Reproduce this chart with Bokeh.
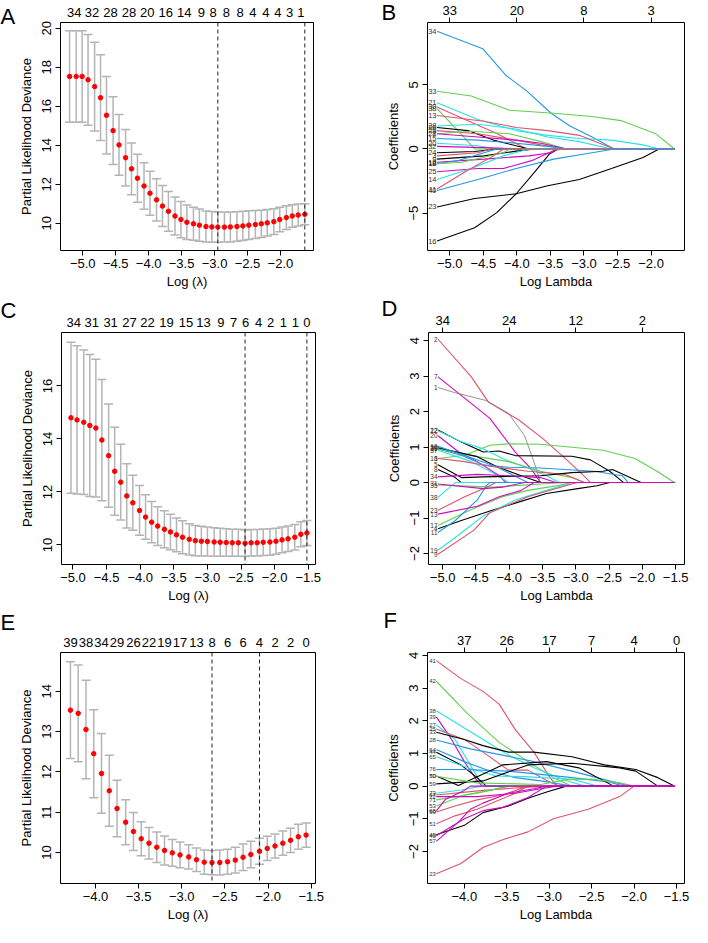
from bokeh.plotting import figure
from bokeh.layouts import column, row
from bokeh.models import (ColumnDataSource, Whisker, TeeHead, Span, Label, LinearAxis,
                          FixedTicker, CustomJSTickFormatter, Range1d)
from bokeh.embed import file_html
from bokeh.resources import INLINE
from bokeh.core.properties import value

FONT = "Liberation Sans"
COLORS = {"k": "black", "r": "#DF536B", "g": "#61D04F", "b": "#2297E6",
          "c": "#28E2E5", "m": "#CD0BBC", "y": "#777777"}
GREY = "#B4B4B4"

# ---------------- Panel A (CV curve) ----------------
A_lam = [-5.20, -5.10, -5.01, -4.92, -4.82, -4.73, -4.64, -4.54, -4.45, -4.35, -4.26, -4.17, -4.07,
         -3.98, -3.88, -3.79, -3.70, -3.60, -3.51, -3.42, -3.32, -3.23, -3.13, -3.04, -2.95, -2.85,
         -2.76, -2.66, -2.57, -2.48, -2.38, -2.29, -2.20, -2.10, -2.01, -1.91, -1.82, -1.73, -1.63]
A_mean = [17.53, 17.53, 17.53, 17.36, 17.01, 16.44, 15.54, 14.75, 14.02, 13.36, 12.79, 12.31, 11.91,
          11.54, 11.20, 10.88, 10.61, 10.37, 10.19, 10.05, 9.97, 9.90, 9.83, 9.81, 9.80, 9.80,
          9.81, 9.83, 9.86, 9.90, 9.93, 9.97, 10.02, 10.08, 10.19, 10.29, 10.37, 10.42, 10.46]
A_se = [2.35, 2.35, 2.35, 2.33, 2.28, 2.20, 1.99, 1.74, 1.56, 1.45, 1.33, 1.23, 1.19,
        1.13, 1.08, 1.05, 1.02, 0.98, 0.93, 0.88, 0.85, 0.83, 0.80, 0.79, 0.78, 0.77,
        0.77, 0.76, 0.75, 0.74, 0.72, 0.70, 0.68, 0.66, 0.63, 0.61, 0.58, 0.56, 0.54]
A_vlines = [-2.95, -1.63]
A_top_pos = [-5.13, -4.86, -4.58, -4.30, -4.02, -3.74, -3.46, -3.20, -3.02, -2.82, -2.61, -2.42,
             -2.22, -2.04, -1.86, -1.69]
A_top_lab = ["34", "32", "28", "28", "20", "16", "14", "9", "8", "8", "8", "4", "4", "4", "3", "1"]

# ---------------- Panel C (CV curve) ----------------
C_lam = [-5.03, -4.94, -4.84, -4.75, -4.66, -4.57, -4.47, -4.38, -4.29, -4.20, -4.11, -4.01, -3.92,
         -3.83, -3.74, -3.64, -3.55, -3.46, -3.37, -3.27, -3.18, -3.09, -3.00, -2.90, -2.81, -2.72,
         -2.63, -2.54, -2.44, -2.35, -2.26, -2.17, -2.07, -1.98, -1.89, -1.80, -1.70, -1.61, -1.52]
C_mean = [14.80, 14.72, 14.63, 14.51, 14.41, 13.96, 13.37, 12.78, 12.37, 11.85, 11.59, 11.30, 11.05,
          10.86, 10.71, 10.59, 10.49, 10.38, 10.29, 10.21, 10.16, 10.14, 10.13, 10.11, 10.10, 10.09,
          10.08, 10.08, 10.06, 10.08, 10.08, 10.10, 10.11, 10.14, 10.19, 10.23, 10.29, 10.40, 10.45]
C_se = [2.85, 2.80, 2.73, 2.68, 2.60, 2.29, 1.95, 1.66, 1.43, 1.21, 1.04, 0.94, 0.84,
        0.78, 0.73, 0.70, 0.67, 0.64, 0.62, 0.59, 0.57, 0.56, 0.55, 0.54, 0.53, 0.52,
        0.51, 0.51, 0.50, 0.50, 0.50, 0.50, 0.50, 0.49, 0.49, 0.48, 0.48, 0.47, 0.47]
C_vlines = [-2.44, -1.52]
C_top_pos = [-4.99, -4.72, -4.44, -4.16, -3.89, -3.61, -3.32, -3.06, -2.80, -2.61, -2.43, -2.24,
             -2.06, -1.87, -1.69, -1.52]
C_top_lab = ["34", "31", "31", "27", "22", "19", "15", "13", "9", "7", "6", "4", "2", "1", "1", "0"]

# ---------------- Panel E (CV curve) ----------------
E_lam = [-4.29, -4.20, -4.11, -4.02, -3.93, -3.84, -3.75, -3.65, -3.56, -3.47, -3.38, -3.29, -3.20,
         -3.11, -3.02, -2.92, -2.83, -2.74, -2.65, -2.56, -2.47, -2.38, -2.29, -2.20, -2.10, -2.01,
         -1.92, -1.83, -1.74, -1.65, -1.56]
E_mean = [13.53, 13.45, 13.05, 12.45, 11.96, 11.53, 11.09, 10.75, 10.52, 10.34, 10.23, 10.13, 10.05,
          9.99, 9.94, 9.89, 9.82, 9.76, 9.75, 9.75, 9.77, 9.81, 9.88, 9.95, 10.03, 10.10,
          10.16, 10.23, 10.30, 10.39, 10.43]
E_se = [1.20, 1.20, 1.22, 1.09, 0.99, 0.88, 0.70, 0.56, 0.47, 0.42, 0.39, 0.38, 0.36,
        0.33, 0.32, 0.30, 0.29, 0.30, 0.30, 0.31, 0.31, 0.32, 0.33, 0.33, 0.32, 0.30,
        0.30, 0.30, 0.30, 0.31, 0.30]
E_vlines = [-2.65, -2.10]
E_top_pos = [-4.29, -4.11, -3.93, -3.75, -3.56, -3.38, -3.20, -3.02, -2.83, -2.65, -2.47, -2.29,
             -2.10, -1.92, -1.74, -1.56]
E_top_lab = ["39", "38", "34", "29", "26", "22", "19", "17", "13", "8", "6", "6", "4", "2", "2", "0"]

# ---------------- Panel B (coefficient paths) ----------------
B_xmax = -1.65
B_top_pos = [-5.0, -4.0, -3.0, -2.0]
B_top_lab = ["33", "20", "8", "3"]
B_lines = [
    ("34", "b", [-5.19, -4.51, -4.16, -3.85, -3.49, -3.21, -2.88, -2.55], [9.16, 7.81, 5.72, 4.50, 2.78, 1.79, 0.93, 0]),
    ("33", "g", [-5.19, -4.68, -4.11, -3.45, -2.88, -2.45, -1.93, -1.65], [4.50, 4.13, 3.02, 2.78, 2.53, 2.21, 1.18, 0]),
    ("23", "k", [-5.19, -4.63, -4.01, -3.54, -3.07, -2.59, -2.12, -1.88], [-4.52, -3.86, -3.49, -2.87, -2.38, -1.52, -0.66, 0]),
    ("16", "k", [-5.19, -4.63, -4.30, -4.01, -3.73, -3.52, -3.40, -3.26], [-7.17, -6.14, -4.96, -3.49, -1.77, -0.42, -0.05, 0]),
    ("21", "c", [-5.19, -4.58, -4.01, -3.54, -3.07, -2.59, -2.12, -1.88], [3.59, 2.29, 1.43, 1.06, 0.81, 0.69, 0.32, 0]),
    ("30", "r", [-5.19, -4.73, -4.30, -3.85], [3.27, 2.20, 1.20, 0]),
    ("38", "g", [-5.19, -4.91, -4.63], [3.14, 1.60, 0]),
    ("13", "r", [-5.19, -4.49, -4.01, -3.54, -3.07, -2.55], [2.60, 2.16, 1.67, 1.43, 1.06, 0]),
    ("26", "k", [-5.19, -4.73, -4.35, -3.82], [1.67, 1.43, 0.69, 0]),
    ("28", "c", [-5.19, -4.58, -4.01, -3.54, -3.07, -2.59], [1.79, 1.92, 1.55, 0.93, 0.57, 0]),
    ("29", "r", [-5.19, -4.58, -4.01, -3.64, -3.26], [1.43, 1.18, 0.69, 0.32, 0]),
    ("8", "g", [-5.19, -4.68, -4.11, -3.64, -3.26], [1.18, 1.38, 1.18, 0.57, 0]),
    ("27", "m", [-5.19, -4.58, -4.01, -3.64, -3.26], [1.18, 0.93, 0.69, 0.44, 0]),
    ("15", "b", [-5.19, -4.58, -4.01, -3.54, -3.26], [0.81, 0.69, 0.44, 0.20, 0]),
    ("20", "c", [-5.19, -4.58, -4.30], [0.44, 0.25, 0]),
    ("32", "m", [-5.19, -4.49, -3.85], [0.20, 0.10, 0]),
    ("24", "k", [-5.19, -4.63, -4.30], [-0.30, -0.20, 0]),
    ("3", "r", [-5.19, -4.58, -4.39], [-0.54, -0.29, 0]),
    ("9", "k", [-5.19, -4.49, -4.01, -3.73], [-0.79, -0.54, -0.17, 0]),
    ("12", "m", [-5.19, -4.49, -3.82, -3.49, -3.40], [-1.03, -0.79, -0.54, -0.29, 0]),
    ("19", "b", [-5.19, -4.87, -4.49, -4.30], [-1.15, -0.90, -0.29, 0]),
    ("18", "g", [-5.19, -4.82, -4.20, -4.11], [-1.15, -1.03, -0.29, 0]),
    ("25", "m", [-5.19, -4.58, -4.20, -3.78, -3.40], [-1.77, -1.52, -1.52, -0.91, 0]),
    ("14", "c", [-5.19, -4.68, -4.20, -3.82], [-2.38, -1.52, -0.54, 0]),
    ("11", "r", [-5.19, -4.77, -4.35, -4.20], [-3.12, -1.77, -0.54, 0]),
    ("40", "b", [-5.19, -4.58, -4.01, -3.45, -2.88, -2.55], [-3.24, -2.38, -1.52, -0.79, -0.29, 0]),
]

# ---------------- Panel D (coefficient paths) ----------------
D_xmax = -1.52
D_top_pos = [-5.0, -4.0, -3.0, -2.0]
D_top_lab = ["34", "24", "12", "2"]
D_lines = [
    ("2", "r", [-5.07, -4.57, -4.31, -3.86, -3.49, -3.16, -2.85, -2.78], [4.04, 2.98, 2.26, 1.77, 1.23, 0.68, 0.14, 0]),
    ("7", "m", [-5.07, -4.29, -3.91, -3.68, -3.53], [2.98, 1.81, 0.86, 0.41, 0]),
    ("1", "y", [-5.07, -4.81, -4.34, -4.01, -3.77, -3.63, -3.53], [2.68, 2.53, 2.31, 1.95, 1.32, 0.59, 0]),
    ("3", "g", [-5.07, -4.67, -4.29, -4.01, -3.53, -2.59, -2.11, -1.78, -1.52], [0.68, 0.77, 1.05, 1.09, 1.08, 0.91, 0.68, 0.32, 0]),
    ("22", "k", [-5.07, -4.72, -4.39, -4.15, -3.91, -3.06, -2.78, -2.49, -2.28], [1.48, 1.14, 0.86, 0.89, 0.76, 0.74, 0.64, 0.32, 0]),
    ("12", "c", [-5.07, -4.72, -4.39, -4.10, -3.72, -3.44, -3.25], [1.46, 1.15, 0.95, 0.68, 0.41, 0.19, 0]),
    ("20", "m", [-5.07, -4.76, -4.48, -4.15, -4.05], [1.32, 0.86, 0.59, 0.19, 0]),
    ("29", "b", [-5.07, -4.72, -4.39, -4.01, -3.53, -3.16, -2.73, -2.30, -2.21], [0.95, 0.77, 0.50, 0.43, 0.41, 0.37, 0.32, 0.19, 0]),
    ("36", "g", [-5.07, -4.48, -4.01, -3.53, -3.06, -2.87], [0.95, 0.73, 0.59, 0.32, 0.14, 0]),
    ("30", "k", [-5.07, -4.48, -4.20, -3.82, -3.53], [0.98, 0.73, 0.46, 0.19, 0]),
    ("37", "c", [-5.07, -4.57, -4.20, -4.01], [0.91, 0.59, 0.23, 0]),
    ("10", "b", [-5.07, -4.57, -4.20, -3.72], [1.02, 0.70, 0.45, 0]),
    ("16", "r", [-5.07, -4.67, -4.29, -3.72, -3.16, -2.87], [0.68, 0.59, 0.46, 0.32, 0.23, 0]),
    ("5", "k", [-5.07, -4.72, -4.39, -3.53, -3.06, -2.59, -2.45, -2.02], [0.50, 0.14, 0.16, 0.19, 0.28, 0.32, 0.37, 0]),
    ("8", "k", [-5.07, -4.81, -4.72], [0.37, 0.14, 0]),
    ("34", "m", [-5.07, -4.48, -4.01, -3.53, -3.30], [0.16, 0.23, 0.19, 0.14, 0]),
    ("35", "g", [-5.07, -4.24, -3.53, -3.16], [-0.07, -0.13, -0.04, 0]),
    ("38", "c", [-5.07, -4.95, -4.81], [-0.42, -0.22, 0]),
    ("23", "r", [-5.07, -4.67, -4.34, -4.20], [-0.78, -0.40, -0.13, 0]),
    ("17", "g", [-5.07, -4.57, -4.10, -3.72, -3.25, -3.06], [-1.21, -0.76, -0.40, -0.22, -0.08, 0]),
    ("4", "k", [-5.07, -4.72, -4.29, -3.91, -3.44, -2.97, -2.68, -2.49], [-1.30, -1.07, -0.80, -0.58, -0.31, -0.17, -0.09, 0]),
    ("11", "b", [-5.07, -4.81, -4.48, -4.34, -4.29], [-1.41, -1.07, -0.49, -0.08, 0]),
    ("19", "c", [-5.07, -4.76, -4.39, -3.91, -3.44, -3.11, -3.06], [-1.91, -1.48, -0.94, -0.49, -0.22, -0.04, 0]),
    ("9", "r", [-5.07, -4.53, -4.29, -3.72, -3.06, -2.97], [-2.02, -1.34, -0.85, -0.40, -0.04, 0]),
    ("31", "m", [-5.07, -4.39, -4.10, -3.77], [-0.04, -0.17, -0.13, 0]),
    ("13", "m", [-5.07, -4.48, -4.15, -3.82, -3.63], [-0.89, -0.67, -0.40, -0.22, 0]),
]

# ---------------- Panel F (coefficient paths) ----------------
F_xmax = -1.52
F_top_pos = [-4.0, -3.5, -3.0, -2.5, -2.0, -1.5]
F_top_lab = ["37", "26", "17", "7", "4", "0"]
F_lines = [
    ("41", "r", [-4.33, -4.04, -3.78, -3.59, -3.40, -3.18, -2.99, -2.91], [3.84, 3.29, 2.90, 2.51, 1.73, 1.04, 0.26, 0]),
    ("42", "g", [-4.33, -3.96, -3.59, -3.25, -2.95, -2.73], [3.21, 2.21, 1.34, 0.75, 0.26, 0]),
    ("38", "c", [-4.33, -4.00, -3.78, -3.48, -3.18, -2.80, -2.58], [2.31, 1.78, 1.43, 0.95, 0.56, 0.17, 0]),
    ("39", "m", [-4.33, -4.15, -4.00, -3.85, -3.79], [2.12, 1.43, 0.75, 0.17, 0]),
    ("27", "c", [-4.33, -4.11, -3.93, -3.78], [1.87, 1.43, 0.65, 0]),
    ("35", "r", [-4.33, -4.00, -3.78, -3.48, -3.25, -3.03, -2.88], [1.75, 1.43, 1.04, 0.49, 0.49, 0.17, 0]),
    ("33", "k", [-4.33, -4.00, -3.78, -3.48, -3.18, -2.73, -2.35, -1.98, -1.72, -1.52], [1.65, 1.43, 1.24, 1.04, 1.04, 0.90, 0.65, 0.51, 0.26, 0]),
    ("28", "b", [-4.33, -3.93, -3.55, -3.18, -2.73, -2.35, -2.05], [1.41, 1.14, 0.95, 0.75, 0.46, 0.20, 0]),
    ("44", "k", [-4.33, -4.04, -3.85, -3.74], [1.04, 0.65, 0.26, 0]),
    ("64", "b", [-4.33, -4.00, -3.70, -3.40, -3.10, -2.73], [1.12, 0.75, 0.46, 0.26, 0.16, 0]),
    ("65", "c", [-4.33, -4.00, -3.63, -3.29, -2.73, -2.43], [0.90, 0.60, 0.31, 0.29, 0.21, 0]),
    ("76", "b", [-4.33, -4.00, -3.48, -3.10, -2.73, -2.28, -2.13], [0.51, 0.51, 0.46, 0.36, 0.26, 0.12, 0]),
    ("70", "k", [-4.33, -4.07, -3.55, -3.03, -2.65, -2.24], [0.31, 0.02, 0.65, 0.75, 0.56, 0]),
    ("59", "k", [-4.33, -3.78, -3.25, -2.73, -2.17, -1.98, -1.72], [0.07, 0.16, 0.65, 0.70, 0.56, 0.46, 0]),
    ("50", "g", [-4.33, -3.85, -3.10, -2.80, -2.50, -2.17, -2.00], [0.30, 0.10, 0.05, 0.20, 0.22, 0.10, 0]),
    ("67", "r", [-4.33, -3.78, -3.25, -2.95], [-0.27, -0.13, -0.03, 0]),
    ("73", "c", [-4.33, -4.04, -3.79], [-0.22, -0.12, 0]),
    ("71", "g", [-4.33, -3.85, -3.48], [-0.42, -0.22, 0]),
    ("53", "g", [-4.33, -4.00, -3.70, -3.48], [-0.61, -0.27, -0.13, 0]),
    ("69", "r", [-4.33, -4.11, -3.85, -3.55, -3.25], [-0.79, -0.61, -0.42, -0.27, 0]),
    ("51", "r", [-4.33, -4.11, -3.85, -3.63, -3.40, -3.25], [-1.15, -0.91, -0.71, -0.47, -0.22, 0]),
    ("49", "k", [-4.33, -4.00, -3.78, -3.48, -3.25, -3.03, -2.80], [-1.49, -1.20, -0.81, -0.61, -0.37, -0.18, 0]),
    ("23", "r", [-4.33, -4.04, -3.78, -3.55, -3.25, -2.95, -2.54, -2.17, -2.00], [-2.68, -2.37, -1.88, -1.64, -1.40, -1.00, -0.71, -0.32, 0]),
    ("72", "m", [-4.33, -3.85, -3.40, -3.10, -2.91], [-0.32, -0.32, -0.22, -0.08, 0]),
    ("68", "m", [-4.33, -4.22, -4.00, -3.93], [-0.76, -0.40, -0.13, 0]),
    ("40", "m", [-4.33, -4.00, -3.78, -3.55, -3.25, -3.03], [-1.52, -1.00, -0.75, -0.65, -0.35, 0]),
    ("57", "m", [-4.33, -4.07, -3.93, -3.78, -3.48, -3.18, -3.03], [-1.69, -1.10, -0.71, -0.52, -0.22, -0.08, 0]),
]

MINUS_FMT1 = CustomJSTickFormatter(code="return tick.toFixed(1).replace('-', '\u2212');")
MINUS_FMT0 = CustomJSTickFormatter(code="return tick.toFixed(0).replace('-', '\u2212');")
LOOKUP = """
let best = -1, bd = 1e9;
for (let i = 0; i < pos.length; i++) { const d = Math.abs(pos[i] - tick); if (d < bd) { bd = d; best = i; } }
return bd < 1e-6 ? lab[best] : '';
"""


def style_axis(ax, fs):
    ax.axis_line_color = None
    ax.major_tick_line_color = "black"
    ax.major_tick_out = 5
    ax.major_tick_in = 0
    ax.minor_tick_line_color = None
    ax.major_label_text_font = FONT
    ax.major_label_text_font_size = fs
    ax.major_label_text_color = "black"
    ax.axis_label_text_font = FONT
    ax.axis_label_text_font_size = fs
    ax.axis_label_text_font_style = "normal"
    ax.axis_label_text_color = "black"


def base_fig(w, h, borders, xr, yr, xlabel, ylabel, xticks, yticks, fs):
    l, r, t, b = borders
    p = figure(width=w, height=h, x_range=Range1d(*xr), y_range=Range1d(*yr),
               output_backend="svg", toolbar_location=None,
               min_border_left=l, min_border_right=r, min_border_top=t, min_border_bottom=b,
               x_axis_label=xlabel, y_axis_label=ylabel)
    p.grid.visible = False
    p.outline_line_color = "black"
    p.outline_line_width = 1
    p.outline_line_alpha = 1
    p.background_fill_color = "white"
    p.border_fill_color = "white"
    for ax in p.xaxis + p.yaxis:
        style_axis(ax, fs)
    p.xaxis.ticker = FixedTicker(ticks=xticks)
    p.xaxis.formatter = MINUS_FMT1
    p.xaxis.major_label_standoff = 3
    p.xaxis.axis_label_standoff = 3
    p.yaxis.ticker = FixedTicker(ticks=yticks)
    p.yaxis.formatter = MINUS_FMT0
    p.yaxis.major_label_orientation = "vertical"
    p.yaxis.major_label_standoff = 4
    p.yaxis.axis_label_standoff = 6
    return p


def add_letter(p, letter, dx, dy):
    # placed in the left side panel (outermost slot) so that it is not clipped to the frame;
    # x, y are offsets in pixels relative to that slot (y measured upward from frame bottom)
    p.add_layout(Label(x=dx, y=dy, x_units="screen", y_units="screen",
                       text=letter, text_font=FONT, text_font_size="22px",
                       text_baseline="top", text_align="left", text_color="black"), "left")


def cv_panel(letter, w, h, borders, xr, yr, xticks, yticks, lam, mean, se, vlines, top_pos, top_lab):
    p = base_fig(w, h, borders, xr, yr, "Log (\u03bb)", "Partial Likelihood Deviance", xticks, yticks, "13px")
    top = LinearAxis(ticker=FixedTicker(ticks=top_pos),
                     formatter=CustomJSTickFormatter(args=dict(pos=top_pos, lab=top_lab), code=LOOKUP))
    style_axis(top, "13px")
    top.major_tick_line_color = None
    top.major_tick_out = 0
    top.major_label_standoff = 6
    p.add_layout(top, "above")
    upper = [m + s for m, s in zip(mean, se)]
    lower = [m - s for m, s in zip(mean, se)]
    src = ColumnDataSource(dict(x=lam, mean=mean, upper=upper, lower=lower))
    p.add_layout(Whisker(source=src, base="x", upper="upper", lower="lower",
                         line_color=GREY, line_width=1.5,
                         upper_head=TeeHead(size=9, line_color=GREY, line_width=1.5),
                         lower_head=TeeHead(size=9, line_color=GREY, line_width=1.5)))
    p.scatter("x", "mean", source=src, size=4.5, color="red", line_color="red")
    for v in vlines:
        p.add_layout(Span(location=v, dimension="height", line_color="#222222",
                          line_dash="4 3", line_width=1))
    l, r, t, b = borders
    add_letter(p, letter, 0, (h - t - b) + t - 3)
    return p


def coef_panel(letter, w, h, borders, xr, yr, xticks, yticks, lines, xmax, top_pos, top_lab, lfs):
    p = base_fig(w, h, borders, xr, yr, "Log Lambda", "Coefficients", xticks, yticks, "13px")
    top = LinearAxis(ticker=FixedTicker(ticks=top_pos),
                     formatter=CustomJSTickFormatter(args=dict(pos=top_pos, lab=top_lab), code=LOOKUP))
    style_axis(top, "13px")
    top.major_label_standoff = 3
    p.add_layout(top, "above")
    for lab, col, xs, ys in lines:
        lw = 0.8 if col == "y" else 1.1
        p.line(list(xs) + [xmax], list(ys) + [0], line_color=COLORS[col], line_width=lw)
    p.text(x=[ln[2][0] for ln in lines], y=[ln[3][0] for ln in lines], text=[ln[0] for ln in lines],
           text_align="right", text_baseline="middle", text_font=value(FONT),
           text_font_size=value(lfs), text_color="#333333", x_offset=-0.5)
    l, r, t, b = borders
    add_letter(p, letter, 14, (h - t - b) + t - 3)
    return p


WL, WR = 340, 352
H1, H2, H3 = 294, 312, 319

bA = (55, 27, 22, 44)
bB = (87, 8, 20, 40)
bC = (57, 25, 38, 42)
bD = (88, 8, 38, 40)
bE = (55, 25, 44, 42)
bF = (87, 8, 46, 40)

pA = cv_panel("A", WL, H1, bA, (-5.338, -1.498), (8.60, 20.30),
              [-5.0, -4.5, -4.0, -3.5, -3.0, -2.5, -2.0], [10, 12, 14, 16, 18, 20],
              A_lam, A_mean, A_se, A_vlines, A_top_pos, A_top_lab)
pB = coef_panel("B", WR, H1, bB, (-5.332, -1.502), (-7.91, 9.85),
                [-5.0, -4.5, -4.0, -3.5, -3.0, -2.5, -2.0], [-5, 0, 5],
                B_lines, B_xmax, B_top_pos, B_top_lab, "7.5px")
pC = cv_panel("C", WL, H2, bC, (-5.171, -1.392), (9.26, 18.02),
              [-5.0, -4.5, -4.0, -3.5, -3.0, -2.5, -2.0, -1.5], [10, 12, 14, 16],
              C_lam, C_mean, C_se, C_vlines, C_top_pos, C_top_lab)
pD = coef_panel("D", WR, H2, bD, (-5.213, -1.367), (-2.31, 4.23),
                [-5.0, -4.5, -4.0, -3.5, -3.0, -2.5, -2.0, -1.5], [-2, -1, 0, 1, 2, 3, 4],
                D_lines, D_xmax, D_top_pos, D_top_lab, "6.5px")
pE = cv_panel("E", WL, H3, bE, (-4.405, -1.451), (9.23, 14.96),
              [-4.0, -3.5, -3.0, -2.5, -2.0, -1.5], [10, 11, 12, 13, 14],
              E_lam, E_mean, E_se, E_vlines, E_top_pos, E_top_lab)
pF = coef_panel("F", WR, H3, bF, (-4.434, -1.406), (-2.98, 4.09),
                [-4.0, -3.5, -3.0, -2.5, -2.0, -1.5], [-2, -1, 0, 1, 2, 3, 4],
                F_lines, F_xmax, F_top_pos, F_top_lab, "6px")

layout = column(row(pA, pB), row(pC, pD), row(pE, pF))
open("out.html", "w").write(file_html(layout, INLINE))
